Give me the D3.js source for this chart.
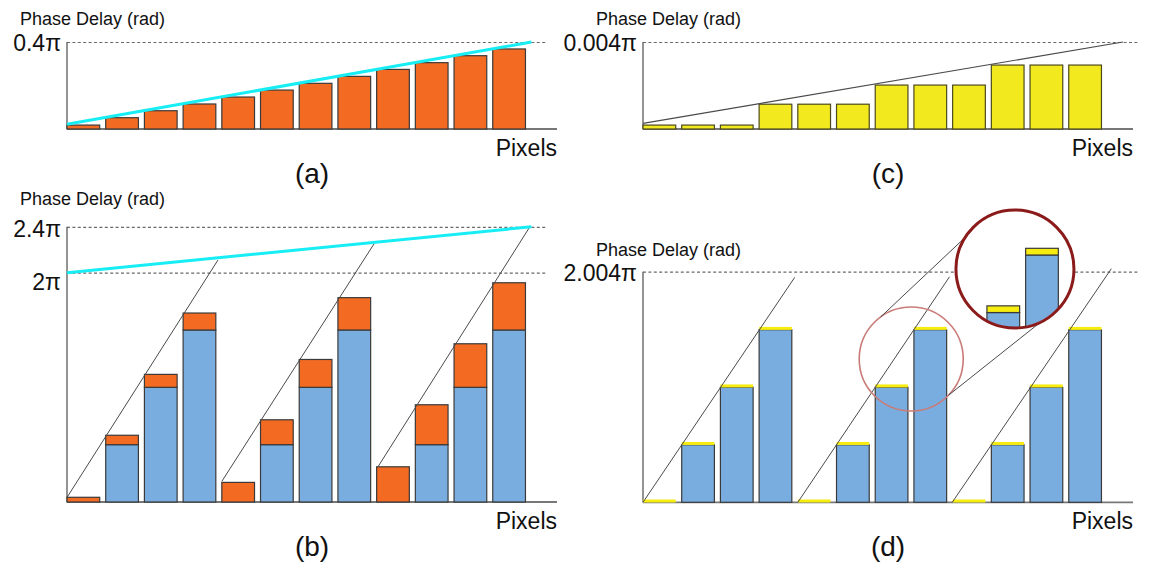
<!DOCTYPE html>
<html>
<head>
<meta charset="utf-8">
<script src="https://cdn.jsdelivr.net/npm/d3@7"></script>
<style>
  html, body { margin: 0; padding: 0; background: #fff; }
  svg { display: block; font-family: "Liberation Sans", Arial, Helvetica, sans-serif; }
</style>
</head>
<body>
<svg id="fig" width="1152" height="566"></svg>
<script>
// ---- data (phase values in units of pi) ----
const pixels = [1, 2, 3, 4, 5, 6, 7, 8, 9, 10, 11, 12];

// (a) ideal continuous phase profile sampled per pixel
const phaseA = [0.018, 0.052, 0.084, 0.115, 0.147, 0.179, 0.210, 0.242, 0.274, 0.305, 0.337, 0.368];
const rampA = [[0, 0.022], [12, 0.4]];

// (b) coarse 2-bit levels plus the remaining residual
const coarseLevels = [0, 0.5, 1, 1.5, 0, 0.5, 1, 1.5, 0, 0.5, 1, 1.5];
const residualB = [0.041, 0.082, 0.113, 0.148, 0.171, 0.217, 0.243, 0.282, 0.307, 0.348, 0.380, 0.412];
const rampB = [[0, 2.0], [12, 2.4]];
const wrapB = [
  [[0, 0.04], [3.9, 2.11]],
  [[4.0, 0.18], [7.93, 2.25]],
  [[8.04, 0.31], [11.94, 2.39]]
];

// (c) fine delay steps
const fineC = [0.00018, 0.00018, 0.00018, 0.00114, 0.00114, 0.00114,
               0.00202, 0.00202, 0.00202, 0.00294, 0.00294, 0.00294];
const rampC = [[0, 0.00026], [12.4, 0.004]];

// (d) coarse levels with fine caps
const wrapD = [
  [[0, 0], [3.92, 1.955]],
  [[4.0, 0], [7.92, 1.96]],
  [[7.99, 0], [12.1, 2.03]]
];
const lensFrom = { x: 6.93, y: 1.245 };      // magnified spot (pixel units, pi)
const lensTo = { x: 9.61, y: 2.027 };        // enlarged view
const lensShift = { x: 2.886, y: 0.649 };    // offset of the enlarged bars
const lensPixels = [7, 8];

const ticksA = [0.4],   tickTextA = ["0.4π"];
const ticksB = [2, 2.4], tickTextB = ["2π", "2.4π"];
const ticksC = [0.004], tickTextC = ["0.004π"];
const ticksD = [2.004], tickTextD = ["2.004π"];

// ---- styles ----
const C = {
  orange: "#f36a22", blue: "#7aaddf", yellow: "#f2ea1f", capYellow: "#f6ec10",
  cyan: "#17edf4", barStroke: "#3a3a3a", axis: "#5a5a5a", dash: "#6a6a6a",
  thin: "#4a4a4a", lensLight: "#c97b78", lensDark: "#8b1b1b", text: "#111"
};
const BAR_W = 0.845;        // bar width in pixel units
const SPAN = 12.66;         // x-axis length in pixel units

const svg = d3.select("#fig");

function frame(cfg) {
  const g = svg.append("g");
  const x = d3.scaleLinear().domain([0, SPAN]).range([cfg.x0, cfg.x0 + 490]);
  const y = d3.scaleLinear().domain([0, cfg.max]).range([cfg.base, cfg.top]);

  const axis = d3.axisLeft(y)
    .tickValues(cfg.ticks)
    .tickFormat((d, i) => cfg.tickText[i])
    .tickSize(-(x(cfg.dashEnd) - cfg.x0))
    .tickPadding(6);
  const ag = g.append("g").attr("transform", `translate(${cfg.x0},0)`).call(axis);
  ag.select(".domain").remove();
  ag.selectAll(".tick line")
    .attr("stroke", C.dash).attr("stroke-width", 1.2).attr("stroke-dasharray", "3,2.4");
  ag.selectAll(".tick text")
    .attr("font-size", 23).attr("fill", C.text)
    .attr("font-family", "'Liberation Sans', Arial, sans-serif")
    .attr("dy", d => cfg.tickDy ? cfg.tickDy(d) : "0.38em");

  // vertical axis and baseline
  g.append("line").attr("x1", cfg.x0).attr("x2", cfg.x0)
    .attr("y1", y(cfg.max)).attr("y2", cfg.base)
    .attr("stroke", C.axis).attr("stroke-width", 1.3);
  g.append("line").attr("x1", cfg.x0).attr("x2", x(SPAN))
    .attr("y1", cfg.base).attr("y2", cfg.base)
    .attr("stroke", "#777").attr("stroke-width", 1.8);

  g.append("text").attr("x", cfg.x0 - 47).attr("y", cfg.titleY)
    .attr("font-size", 18).attr("fill", C.text).text("Phase Delay (rad)");
  g.append("text").attr("x", x(SPAN)).attr("y", cfg.base + 27)
    .attr("text-anchor", "end").attr("font-size", 23).attr("fill", C.text).text("Pixels");
  g.append("text").attr("x", cfg.x0 + 245).attr("y", cfg.base + 54)
    .attr("text-anchor", "middle").attr("font-size", 28).attr("fill", C.text).text(cfg.letter);

  return { g, x, y };
}

const line = (x, y) => d3.line().x(d => x(d[0])).y(d => y(d[1]));

// ---- (a) ----
{
  const { g, x, y } = frame({ x0: 67, base: 129, top: 42, max: 0.4, ticks: ticksA, tickText: tickTextA,
    dashEnd: 12.37, titleY: 25, letter: "(a)" });
  g.append("g").selectAll("rect").data(pixels).join("rect")
    .attr("x", p => x(p - 1)).attr("width", x(BAR_W) - x(0))
    .attr("y", p => y(phaseA[p - 1])).attr("height", p => y(0) - y(phaseA[p - 1]))
    .attr("fill", C.orange).attr("stroke", C.barStroke).attr("stroke-width", 1.2);
  g.append("path").datum(rampA).attr("d", line(x, y))
    .attr("fill", "none").attr("stroke", C.cyan).attr("stroke-width", 3);
}

// ---- (b) ----
{
  const { g, x, y } = frame({ x0: 67, base: 502, top: 226.8, max: 2.4, ticks: ticksB, tickText: tickTextB,
    dashEnd: 12.4, titleY: 205, letter: "(b)", tickDy: d => d === 2 ? "0.72em" : "0.42em" });
  const w = x(BAR_W) - x(0);
  g.append("g").selectAll("rect").data(pixels.filter(p => coarseLevels[p - 1] > 0)).join("rect")
    .attr("x", p => x(p - 1)).attr("width", w)
    .attr("y", p => y(coarseLevels[p - 1])).attr("height", p => y(0) - y(coarseLevels[p - 1]))
    .attr("fill", C.blue).attr("stroke", C.barStroke).attr("stroke-width", 1.2);
  g.append("g").selectAll("rect").data(pixels).join("rect")
    .attr("x", p => x(p - 1)).attr("width", w)
    .attr("y", p => y(coarseLevels[p - 1] + residualB[p - 1]))
    .attr("height", p => y(coarseLevels[p - 1]) - y(coarseLevels[p - 1] + residualB[p - 1]))
    .attr("fill", C.orange).attr("stroke", C.barStroke).attr("stroke-width", 1.2);
  g.append("g").selectAll("path").data(wrapB).join("path").attr("d", line(x, y))
    .attr("fill", "none").attr("stroke", C.thin).attr("stroke-width", 1);
  g.append("path").datum(rampB).attr("d", line(x, y))
    .attr("fill", "none").attr("stroke", C.cyan).attr("stroke-width", 3);
}

// ---- (c) ----
{
  const { g, x, y } = frame({ x0: 643, base: 129, top: 42, max: 0.004, ticks: ticksC, tickText: tickTextC,
    dashEnd: 12.78, titleY: 25, letter: "(c)" });
  g.append("g").selectAll("rect").data(pixels).join("rect")
    .attr("x", p => x(p - 1)).attr("width", x(BAR_W) - x(0))
    .attr("y", p => y(fineC[p - 1])).attr("height", p => y(0) - y(fineC[p - 1]))
    .attr("fill", C.yellow).attr("stroke", "#4d4a1c").attr("stroke-width", 1.2);
  g.append("path").datum(rampC).attr("d", line(x, y))
    .attr("fill", "none").attr("stroke", C.thin).attr("stroke-width", 1.1);
}

// ---- (d) ----
{
  const { g, x, y } = frame({ x0: 643, base: 502.3, top: 271.7, max: 2.004, ticks: ticksD, tickText: tickTextD,
    dashEnd: 12.83, titleY: 256, letter: "(d)" });
  const w = x(BAR_W) - x(0);
  g.append("g").selectAll("rect").data(pixels.filter(p => coarseLevels[p - 1] > 0)).join("rect")
    .attr("x", p => x(p - 1)).attr("width", w)
    .attr("y", p => y(coarseLevels[p - 1])).attr("height", p => y(0) - y(coarseLevels[p - 1]))
    .attr("fill", C.blue).attr("stroke", C.barStroke).attr("stroke-width", 1.2);
  // fine caps on top of each coarse level
  g.append("g").selectAll("rect").data(pixels).join("rect")
    .attr("x", p => x(p - 1)).attr("width", w)
    .attr("y", p => y(coarseLevels[p - 1]) - 2.8).attr("height", 3)
    .attr("fill", C.capYellow);
  g.append("g").selectAll("path").data(wrapD).join("path").attr("d", line(x, y))
    .attr("fill", "none").attr("stroke", C.thin).attr("stroke-width", 1);

  // magnifier
  const c1 = { x: x(lensFrom.x), y: y(lensFrom.y), r: 52 };
  const c2 = { x: x(lensTo.x), y: y(lensTo.y), r: 59 };
  const onCircle = (c, deg) => [c.x + c.r * Math.cos(deg * Math.PI / 180), c.y + c.r * Math.sin(deg * Math.PI / 180)];
  g.append("circle").attr("cx", c1.x).attr("cy", c1.y).attr("r", c1.r)
    .attr("fill", "none").attr("stroke", C.lensLight).attr("stroke-width", 1.6);
  [[44, 64.6], [234, 212.4]].forEach(([a1, a2]) => {
    const p1 = onCircle(c1, a1), p2 = onCircle(c2, a2);
    g.append("line").attr("x1", p1[0]).attr("y1", p1[1]).attr("x2", p2[0]).attr("y2", p2[1])
      .attr("stroke", C.thin).attr("stroke-width", 1);
  });
  g.append("circle").attr("cx", c2.x).attr("cy", c2.y).attr("r", c2.r).attr("fill", "#fff");

  svg.append("defs").append("clipPath").attr("id", "lens-clip")
    .append("circle").attr("cx", c2.x).attr("cy", c2.y).attr("r", c2.r - 1);
  const dx = x(lensShift.x) - x(0), dy = y(lensShift.y) - y(0);
  const fineScale = d3.scaleLinear().domain([0, 0.00202]).range([0, 6.7]);
  const inset = g.append("g").attr("clip-path", "url(#lens-clip)")
    .append("g").attr("transform", `translate(${dx},${dy})`);
  inset.selectAll("rect.blue").data(lensPixels).join("rect").attr("class", "blue")
    .attr("x", p => x(p - 1)).attr("width", w)
    .attr("y", p => y(coarseLevels[p - 1])).attr("height", p => y(0) - y(coarseLevels[p - 1]))
    .attr("fill", C.blue).attr("stroke", C.barStroke).attr("stroke-width", 1.2);
  inset.selectAll("rect.cap").data(lensPixels).join("rect").attr("class", "cap")
    .attr("x", p => x(p - 1)).attr("width", w)
    .attr("y", p => y(coarseLevels[p - 1]) - fineScale(fineC[p - 1]))
    .attr("height", p => fineScale(fineC[p - 1]))
    .attr("fill", C.capYellow).attr("stroke", C.barStroke).attr("stroke-width", 1.2);
  g.append("circle").attr("cx", c2.x).attr("cy", c2.y).attr("r", c2.r)
    .attr("fill", "none").attr("stroke", C.lensDark).attr("stroke-width", 3);
}
</script>
</body>
</html>
